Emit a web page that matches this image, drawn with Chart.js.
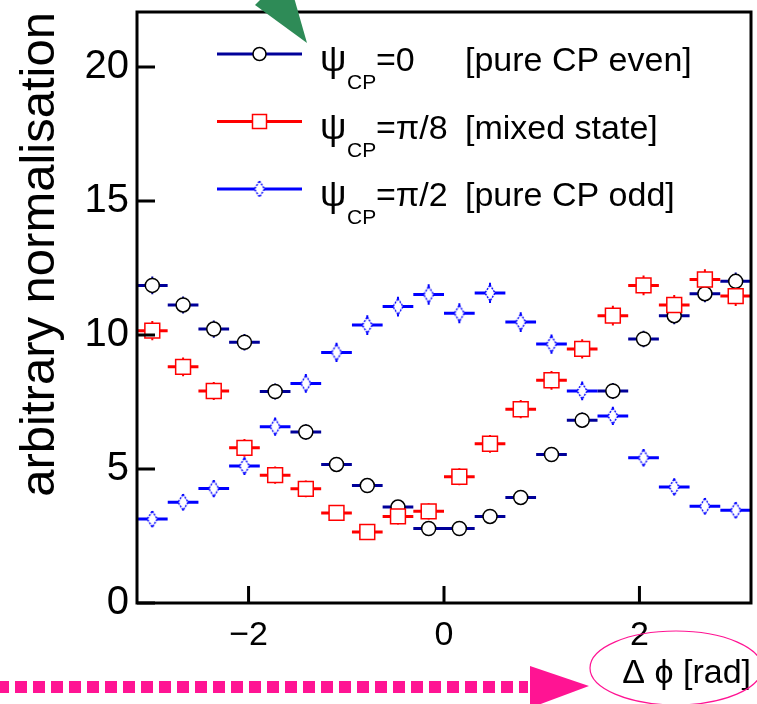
<!DOCTYPE html>
<html>
<head>
<meta charset="utf-8">
<script src="https://cdn.jsdelivr.net/npm/chart.js@4.4.0/dist/chart.umd.min.js"></script>
<style>
  html, body { margin: 0; padding: 0; background: #fff; }
</style>
</head>
<body>
<canvas id="myChart" width="757" height="704"></canvas>
<script>
// delta phi bins, 20 bins between -pi and pi
var binCenters = [-2.985, -2.670, -2.356, -2.042, -1.728, -1.414, -1.100, -0.785, -0.471, -0.157,
                   0.157,  0.471,  0.785,  1.100,  1.414,  1.728,  2.042,  2.356,  2.670,  2.985];
var binHalfWidth = 0.157;

// psi_CP = 0  (pure CP even)
var cpEven  = [11.85, 11.12, 10.22, 9.73, 7.89, 6.38, 5.17, 4.38, 3.58, 2.78,
               2.78, 3.23, 3.94, 5.54, 6.82, 7.91, 9.85, 10.72, 11.54, 12.00];
// psi_CP = pi/8 (mixed state)
var cpMixed = [10.16, 8.81, 7.91, 5.79, 4.77, 4.26, 3.36, 2.65, 3.23, 3.42,
               4.71, 5.94, 7.23, 8.31, 9.48, 10.72, 11.85, 11.12, 12.07, 11.45];
// psi_CP = pi/2 (pure CP odd)
var cpOdd   = [3.13, 3.76, 4.27, 5.11, 6.58, 8.19, 9.35, 10.37, 11.06, 11.51,
               10.81, 11.57, 10.48, 9.66, 7.91, 6.98, 5.42, 4.33, 3.61, 3.46];

// statistical errors (small)
var errEven  = [0.33, 0.32, 0.32, 0.31, 0.30, 0.29, 0.28, 0.27, 0.26, 0.25,
                0.25, 0.26, 0.27, 0.28, 0.29, 0.30, 0.31, 0.32, 0.32, 0.33];
var errMixed = [0.36, 0.35, 0.34, 0.33, 0.32, 0.31, 0.30, 0.29, 0.30, 0.30,
                0.32, 0.33, 0.34, 0.35, 0.36, 0.37, 0.37, 0.37, 0.38, 0.37];
var errOdd   = [0.30, 0.31, 0.32, 0.33, 0.34, 0.35, 0.36, 0.37, 0.37, 0.38,
                0.37, 0.38, 0.37, 0.36, 0.35, 0.34, 0.33, 0.32, 0.31, 0.30];

var xTicks = [-2, 0, 2];
var yTicks = [0, 5, 10, 15, 20];

var legendLabels = [
  { value: '=0',   text: '[pure CP even]' },
  { value: '=\u03c0/8', text: '[mixed state]' },
  { value: '=\u03c0/2', text: '[pure CP odd]' }
];

var FONT = 'Liberation Sans, Arial, Helvetica, sans-serif';
Chart.defaults.font.family = FONT;
Chart.defaults.color = '#000';

// open diamond marker (ROOT style)
function makeDiamond() {
  var c = document.createElement('canvas');
  c.width = 12; c.height = 18;
  var g = c.getContext('2d');
  g.beginPath();
  g.moveTo(6, 1); g.lineTo(11, 9); g.lineTo(6, 17); g.lineTo(1, 9); g.closePath();
  g.fillStyle = '#fff';
  g.fill();
  g.setLineDash([2, 1.2]);
  g.strokeStyle = '#0000ff';
  g.lineWidth = 1.4;
  g.stroke();
  return c;
}
var diamond = makeDiamond();

function points(vals) {
  return binCenters.map(function (x, i) { return { x: x, y: vals[i] }; });
}
function hBars(vals) {
  var out = [];
  binCenters.forEach(function (x, i) {
    out.push({ x: x - binHalfWidth, y: vals[i] }, { x: x + binHalfWidth, y: vals[i] }, { x: x, y: null });
  });
  return out;
}
function vBars(vals, errs) {
  var out = [];
  binCenters.forEach(function (x, i) {
    out.push({ x: x, y: vals[i] - errs[i] }, { x: x, y: vals[i] + errs[i] }, { x: x + 0.001, y: null });
  });
  return out;
}
function barSet(data, color, width) {
  return {
    type: 'line', data: data, borderColor: color, borderWidth: width,
    pointRadius: 0, spanGaps: false, fill: false, order: 1
  };
}

var series = [
  { vals: cpOdd,   errs: errOdd,   bar: '#0000ff', edge: '#0000ff', style: diamond, radius: 9 },
  { vals: cpMixed, errs: errMixed, bar: '#ff0000', edge: '#ff0000', style: 'rect',  radius: 10.5 },
  { vals: cpEven,  errs: errEven,  bar: '#000099', edge: '#000000', style: 'circle', radius: 7 }
];

var datasets = [];
series.forEach(function (s) {
  datasets.push({
    type: 'scatter', data: points(s.vals), pointStyle: s.style, pointRadius: s.radius,
    pointBorderColor: s.edge, pointBackgroundColor: '#fff', pointBorderWidth: 1.5, order: 0
  });
});
series.forEach(function (s) {
  datasets.push(barSet(hBars(s.vals), s.bar, 3));
  datasets.push(barSet(vBars(s.vals, s.errs), s.bar, 2));
});

var framePlugin = {
  id: 'frame',
  afterDraw: function (chart) {
    var ctx = chart.ctx, a = chart.chartArea;
    var xs = chart.scales.x, ys = chart.scales.y;
    ctx.save();
    // ticks inside the frame
    ctx.strokeStyle = '#000';
    ctx.lineWidth = 3;
    ctx.beginPath();
    xTicks.forEach(function (v) {
      var px = xs.getPixelForValue(v);
      ctx.moveTo(px, a.bottom); ctx.lineTo(px, a.bottom - 17);
    });
    yTicks.forEach(function (v) {
      var py = ys.getPixelForValue(v);
      ctx.moveTo(a.left, py); ctx.lineTo(a.left + 18, py);
    });
    ctx.stroke();
    ctx.lineWidth = 3;
    ctx.strokeRect(a.left, a.top, a.right - a.left, a.bottom - a.top);

    // legend
    var lx0 = a.left + 80, lx1 = a.left + 165, ly = a.top + 42, step = 67.5;
    legendLabels.forEach(function (lab, k) {
      var s = series[2 - k];
      var y = ly + k * step;
      ctx.strokeStyle = s.bar;
      ctx.lineWidth = 3;
      ctx.beginPath(); ctx.moveTo(lx0, y); ctx.lineTo(lx1, y); ctx.stroke();
      var mx = (lx0 + lx1) / 2;
      ctx.fillStyle = '#fff';
      ctx.strokeStyle = s.edge;
      ctx.lineWidth = 1.5;
      if (s.style === 'circle') {
        ctx.beginPath(); ctx.arc(mx, y, 6.5, 0, Math.PI * 2); ctx.fill(); ctx.stroke();
      } else if (s.style === 'rect') {
        ctx.fillRect(mx - 7, y - 7, 14, 14); ctx.strokeRect(mx - 7, y - 7, 14, 14);
      } else {
        ctx.drawImage(s.style, mx - 6, y - 9);
      }
      ctx.fillStyle = '#000';
      ctx.textBaseline = 'alphabetic';
      ctx.textAlign = 'left';
      ctx.font = '37px ' + FONT;
      ctx.fillText('\u03c8', lx1 + 18, y + 17);
      ctx.font = '21px ' + FONT;
      ctx.fillText('CP', lx1 + 45, y + 35);
      ctx.font = '34px ' + FONT;
      ctx.fillText(lab.value, lx1 + 74, y + 17);
      ctx.fillText(lab.text, lx1 + 163, y + 17);
    });
    ctx.restore();

    // annotations on top of the figure
    ctx.save();
    // green arrow head at the top
    ctx.fillStyle = 'rgb(46,139,87)';
    ctx.beginPath();
    ctx.moveTo(255, 5); ctx.lineTo(307, 43); ctx.lineTo(287, -27); ctx.closePath();
    ctx.fill();
    // pink dotted arrow
    ctx.strokeStyle = 'rgb(255,20,147)';
    ctx.fillStyle = 'rgb(255,20,147)';
    ctx.lineWidth = 12;
    ctx.setLineDash([12, 6]);
    ctx.beginPath(); ctx.moveTo(-3, 687); ctx.lineTo(528, 687); ctx.stroke();
    ctx.setLineDash([]);
    ctx.beginPath();
    ctx.moveTo(530, 666); ctx.lineTo(589, 686); ctx.lineTo(530, 708); ctx.closePath();
    ctx.fill();
    // pink ellipse round the axis title
    ctx.lineWidth = 1.2;
    ctx.beginPath();
    ctx.ellipse(676, 668, 86, 37, 0, 0, Math.PI * 2);
    ctx.stroke();
    ctx.restore();
  }
};

var ctx = document.getElementById('myChart').getContext('2d');
var myChart = new Chart(ctx, {
  type: 'scatter',
  data: { datasets: datasets },
  options: {
    responsive: false,
    animation: false,
    layout: { autoPadding: false, padding: { top: 12, right: 6, left: 0, bottom: 0 } },
    plugins: { legend: { display: false }, tooltip: { enabled: false } },
    scales: {
      x: {
        type: 'linear', min: -Math.PI, max: Math.PI,
        afterFit: function (s) { s.height = 101; s.paddingLeft = 0; s.paddingRight = 0; },
        afterBuildTicks: function (s) { s.ticks = xTicks.map(function (v) { return { value: v }; }); },
        grid: { display: false, drawTicks: false },
        border: { display: false },
        ticks: {
          font: { size: 34 }, color: '#000', padding: 12,
          callback: function (v) { return v < 0 ? '\u2212' + Math.abs(v) : String(v); }
        },
        title: {
          display: true, text: '\u0394 \u03d5 [rad]', align: 'end', color: '#000',
          font: { size: 34 }, padding: { top: 0, bottom: 10 }
        }
      },
      y: {
        type: 'linear', min: 0, max: 22.05,
        afterFit: function (s) { s.width = 137; s.paddingTop = 0; s.paddingBottom = 0; },
        afterBuildTicks: function (s) { s.ticks = yTicks.map(function (v) { return { value: v }; }); },
        grid: { display: false, drawTicks: false },
        border: { display: false },
        ticks: { font: { size: 40 }, color: '#000', padding: 8 },
        title: {
          display: true, text: 'arbitrary normalisation', align: 'end', color: '#000',
          font: { size: 49 }, padding: { top: 11, bottom: 0 }
        }
      }
    }
  },
  plugins: [framePlugin]
});
</script>
</body>
</html>
